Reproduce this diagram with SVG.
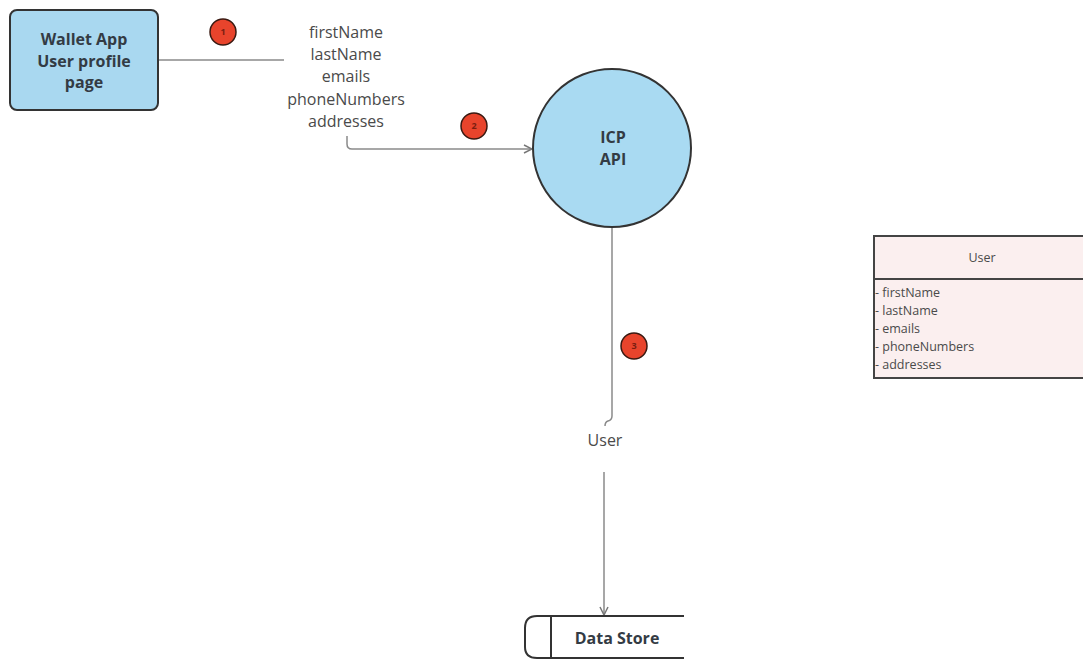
<svg xmlns="http://www.w3.org/2000/svg" width="1083" height="659" viewBox="0 0 1083 659">
<style>
.lbl{font-family:"Open Sans","Noto Sans",sans-serif;fill:#4a4a4a;font-size:16px;text-anchor:middle}
.bold{font-family:"Open Sans","Noto Sans",sans-serif;font-weight:bold;fill:#333b44;font-size:16px;text-anchor:middle}
.attr{font-family:"Open Sans","Noto Sans",sans-serif;fill:#4a4a4a;font-size:12.5px}
.badge circle{fill:#e8442c;stroke:#3a1a12;stroke-width:1.5}
.badge text{font-family:"Open Sans","Noto Sans",sans-serif;font-size:9px;fill:#7a1e10;text-anchor:middle;font-weight:bold}
.conn{fill:none;stroke:#8a8a8a;stroke-width:1.5}
</style>
<defs>
<marker id="arr" viewBox="0 0 10 10" refX="9" refY="5" markerWidth="10" markerHeight="10" markerUnits="userSpaceOnUse" orient="auto">
<path d="M1,1 L9,5 L1,9" fill="none" stroke="#777" stroke-width="1.5"/>
</marker>
</defs>
<rect width="1083" height="659" fill="#ffffff"/>

<g id="connectors">
<path class="conn" d="M158,60 H284"/>
<path class="conn" d="M347,136 V144 Q347,149 352,149 H532" marker-end="url(#arr)"/>
<path class="conn" d="M612,227 V416 Q612,420 608,421 Q605,422 605,426"/>
<path class="conn" d="M604,472 V615" marker-end="url(#arr)"/>
</g>

<g id="wallet-app">
<rect x="10" y="10" width="148" height="100" rx="7" fill="#a9d8f0" stroke="#333" stroke-width="2"/>
<text class="bold" x="84" y="45">Wallet App</text>
<text class="bold" x="84" y="67">User profile</text>
<text class="bold" x="84" y="88">page</text>
</g>

<g id="fields-label">
<text class="lbl" x="346" y="38">firstName</text>
<text class="lbl" x="346" y="60">lastName</text>
<text class="lbl" x="346" y="82">emails</text>
<text class="lbl" x="346" y="105">phoneNumbers</text>
<text class="lbl" x="346" y="127">addresses</text>
</g>

<g id="icp-api">
<circle cx="612" cy="148" r="79" fill="#a9daf2" stroke="#333" stroke-width="2"/>
<text class="bold" x="613" y="143">ICP</text>
<text class="bold" x="613" y="165">API</text>
</g>

<g id="user-label">
<text class="lbl" x="605" y="446">User</text>
</g>

<g id="data-store">
<path d="M684,616 H537 Q525,616 525,628 V647 Q525,658 537,658 H684" fill="#ffffff" stroke="#333" stroke-width="2"/>
<line x1="551" y1="616" x2="551" y2="659" stroke="#333" stroke-width="2"/>
<text class="bold" x="617" y="644">Data Store</text>
</g>

<g id="user-class">
<rect x="874" y="236" width="220" height="142" fill="#fbefef" stroke="#444" stroke-width="2"/>
<line x1="874" y1="279" x2="1083" y2="279" stroke="#444" stroke-width="2"/>
<text class="attr" x="982" y="262" text-anchor="middle">User</text>
<text class="attr" x="875" y="297">- firstName</text>
<text class="attr" x="875" y="315">- lastName</text>
<text class="attr" x="875" y="333">- emails</text>
<text class="attr" x="875" y="351">- phoneNumbers</text>
<text class="attr" x="875" y="369">- addresses</text>
</g>

<g id="badge-1" class="badge"><circle cx="223" cy="32" r="13"/><text x="223" y="35">1</text></g>
<g id="badge-2" class="badge"><circle cx="474" cy="126" r="13"/><text x="474" y="129">2</text></g>
<g id="badge-3" class="badge"><circle cx="634" cy="346" r="13"/><text x="634" y="349">3</text></g>
</svg>
